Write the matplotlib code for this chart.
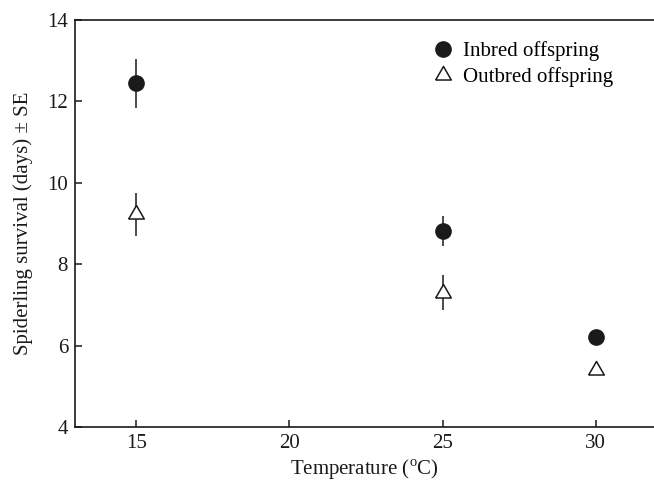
import numpy as np
import matplotlib.pyplot as plt

plt.rcParams['font.family'] = ['Liberation Serif', 'DejaVu Serif']
plt.rcParams['mathtext.fontset'] = 'custom'
plt.rcParams['mathtext.rm'] = 'Liberation Serif'

# data
temps = [15, 25, 30]
inbred_mean = [12.45, 8.82, 6.20]
inbred_se = [0.60, 0.37, 0.08]
outbred_mean = [9.23, 7.30, 5.40]
outbred_se = [0.53, 0.43, 0.13]

x_ticks = [15, 20, 25, 30]
y_ticks = [4, 6, 8, 10, 12, 14]

# equilateral triangle, centred on its centroid
tri = [(-1, -0.577), (1, -0.577), (0, 1.155), (-1, -0.577)]

fig = plt.figure(figsize=(6.54, 4.88), dpi=100)
ax = fig.add_axes([0.1147, 0.125, 0.8853, 0.834])

ax.errorbar(temps, inbred_mean, yerr=inbred_se, fmt='none', ecolor='#1a1a1a',
            elinewidth=1.1, capsize=0, zorder=2)
ax.errorbar(temps, outbred_mean, yerr=outbred_se, fmt='none', ecolor='#1a1a1a',
            elinewidth=1.1, capsize=0, zorder=2)
ax.plot(temps, inbred_mean, 'o', ms=11, mfc='#1a1a1a', mec='#1a1a1a',
        ls='none', zorder=3, label='Inbred offspring')
ax.plot(temps, outbred_mean, marker=tri, ms=13, mfc='white', mec='#1a1a1a',
        mew=1.1, ls='none', zorder=3, label='Outbred offspring')

ax.set_xlim(13, 31.9)
ax.set_ylim(4, 14)
ax.set_xticks(x_ticks)
ax.set_yticks(y_ticks)
ax.tick_params(direction='in', length=5, width=1.1, labelsize=15, pad=5,
               colors='#1a1a1a')
ax.spines['right'].set_visible(False)
for s in ['left', 'bottom', 'top']:
    ax.spines[s].set_linewidth(1.2)
    ax.spines[s].set_color('#1a1a1a')

ax.set_xlabel('Temperature ($^{\\mathrm{o}}$C)', fontsize=15, color='#1a1a1a', labelpad=3)
ax.set_ylabel('Spiderling survival (days) ± SE', fontsize=15, color='#1a1a1a', labelpad=10)

ax.legend(loc='upper right', frameon=False, fontsize=15, handletextpad=0.5,
          borderpad=0, borderaxespad=0, labelspacing=0.3, handlelength=1.0,
          bbox_to_anchor=(0.93, 0.948))

fig.savefig('out.png', dpi=100)
